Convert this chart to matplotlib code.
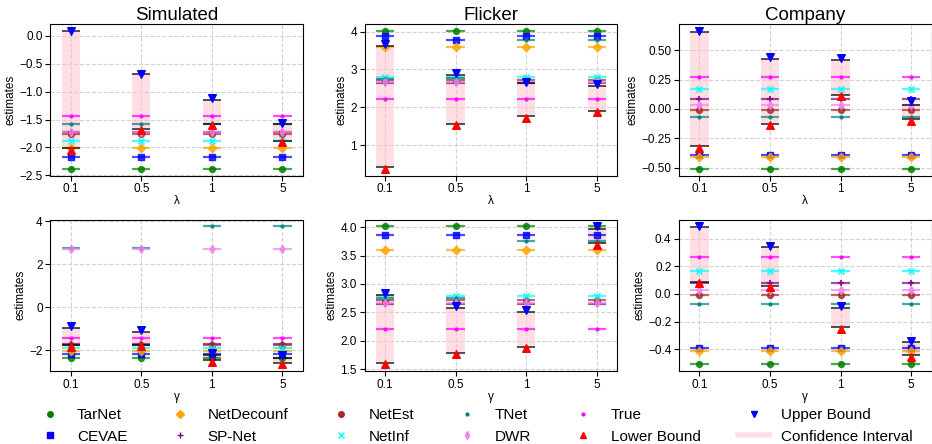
import matplotlib
matplotlib.use("Agg")
import matplotlib.pyplot as plt
from matplotlib.lines import Line2D
import numpy as np

plt.rcParams['font.family'] = ['Liberation Sans', 'DejaVu Sans']

xlabels = ['0.1', '0.5', '1', '5']

methods = ['TarNet', 'CEVAE', 'NetDecounf', 'SP-Net', 'NetEst', 'NetInf', 'TNet', 'DWR', 'True']
colors = {'TarNet': 'green', 'CEVAE': 'blue', 'NetDecounf': 'orange', 'SP-Net': 'purple',
          'NetEst': 'brown', 'NetInf': 'cyan', 'TNet': 'teal', 'DWR': 'violet', 'True': 'magenta'}
markers = {'TarNet': 'o', 'CEVAE': 's', 'NetDecounf': 'D', 'SP-Net': '+',
           'NetEst': 'o', 'NetInf': 'x', 'TNet': '.', 'DWR': 'd', 'True': '.'}

# ---- Simulated, lambda ----
sim_l = {'TarNet': [-2.38]*4, 'CEVAE': [-2.17]*4, 'NetDecounf': [-2.01]*4, 'SP-Net': [-1.72]*4,
         'NetEst': [-1.75]*4, 'NetInf': [-1.88]*4, 'TNet': [-1.585]*4, 'DWR': [-1.73]*4,
         'True': [-1.44]*4}
sim_l_ub = [0.09, -0.68, -1.12, -1.56]
sim_l_hi = [0.09, -0.69, -1.14, -1.585]
sim_l_lo = [-2.01, -1.66, -1.57, -1.875]
sim_l_lb = [-2.04, -1.69, -1.60, -1.905]

# ---- Flicker, lambda ----
fli_l = {'TarNet': [4.02]*4, 'CEVAE': [3.88, 3.77, 3.88, 3.88], 'NetDecounf': [3.60]*4,
         'SP-Net': [2.65]*4, 'NetEst': [2.73]*4, 'NetInf': [2.80]*4,
         'TNet': [2.76, 2.77, 3.77, 3.77], 'DWR': [2.66]*4, 'True': [2.21]*4}
fli_l_ub = [3.68, 2.90, 2.68, 2.62]
fli_l_hi = [3.62, 2.85, 2.64, 2.56]
fli_l_lo = [0.42, 1.57, 1.76, 1.90]
fli_l_lb = [0.38, 1.53, 1.73, 1.87]

# ---- Company, lambda ----
com_l = {'TarNet': [-0.51]*4, 'CEVAE': [-0.39]*4, 'NetDecounf': [-0.41]*4, 'SP-Net': [0.08]*4,
         'NetEst': [-0.01]*4, 'NetInf': [0.17]*4, 'TNet': [-0.07]*4, 'DWR': [0.03]*4,
         'True': [0.27]*4}
com_l_ub = [0.665, 0.445, 0.435, 0.065]
com_l_hi = [0.653, 0.428, 0.418, 0.035]
com_l_lo = [-0.32, -0.125, 0.122, -0.09]
com_l_lb = [-0.335, -0.135, 0.11, -0.10]

# ---- Simulated, gamma ----
sim_g = {'TarNet': [-2.38]*4, 'CEVAE': [-2.17]*4, 'NetDecounf': [-2.01]*4, 'SP-Net': [-1.72]*4,
         'NetEst': [-1.75]*4, 'NetInf': [-1.88]*4, 'TNet': [2.73, 2.73, 3.75, 3.75],
         'DWR': [2.72, 2.72, 2.69, 2.69], 'True': [-1.45]*4}
sim_g_ub = [-0.88, -1.06, -2.14, -2.22]
sim_g_hi = [-0.95, -1.13, -2.20, -2.38]
sim_g_lo = [-1.76, -1.76, -2.45, -2.57]
sim_g_lb = [-1.83, -1.80, -2.54, -2.65]

# ---- Flicker, gamma ----
fli_g = {'TarNet': [4.01]*4, 'CEVAE': [3.86]*4, 'NetDecounf': [3.59]*4, 'SP-Net': [2.65]*4,
         'NetEst': [2.72]*4, 'NetInf': [2.79]*4, 'TNet': [2.76, 2.76, 3.75, 3.75],
         'DWR': [2.66]*4, 'True': [2.21]*4}
fli_g_ub = [2.84, 2.61, 2.55, 4.01]
fli_g_hi = [2.80, 2.57, 2.51, 3.97]
fli_g_lo = [1.62, 1.79, 1.90, 3.72]
fli_g_lb = [1.59, 1.77, 1.88, 3.69]

# ---- Company, gamma ----
com_g = {'TarNet': [-0.51]*4, 'CEVAE': [-0.39]*4, 'NetDecounf': [-0.41]*4, 'SP-Net': [0.08]*4,
         'NetEst': [-0.01]*4, 'NetInf': [0.17]*4, 'TNet': [-0.07]*4, 'DWR': [0.03]*4,
         'True': [0.27]*4}
com_g_ub = [0.49, 0.35, -0.09, -0.34]
com_g_hi = [0.483, 0.34, -0.10, -0.35]
com_g_lo = [0.09, 0.06, -0.24, -0.44]
com_g_lb = [0.08, 0.05, -0.255, -0.455]

panels = [
    ('Simulated', 'λ', sim_l, sim_l_ub, sim_l_hi, sim_l_lo, sim_l_lb, [-2.5, -2.0, -1.5, -1.0, -0.5, 0.0], '%.1f'),
    ('Flicker', 'λ', fli_l, fli_l_ub, fli_l_hi, fli_l_lo, fli_l_lb, [1, 2, 3, 4], '%d'),
    ('Company', 'λ', com_l, com_l_ub, com_l_hi, com_l_lo, com_l_lb, [-0.5, -0.25, 0.0, 0.25, 0.5], '%.2f'),
    (None, 'γ', sim_g, sim_g_ub, sim_g_hi, sim_g_lo, sim_g_lb, [-2, 0, 2, 4], '%d'),
    (None, 'γ', fli_g, fli_g_ub, fli_g_hi, fli_g_lo, fli_g_lb, [1.5, 2.0, 2.5, 3.0, 3.5, 4.0], '%.1f'),
    (None, 'γ', com_g, com_g_ub, com_g_hi, com_g_lo, com_g_lb, [-0.4, -0.2, 0.0, 0.2, 0.4], '%.1f'),
]

w = 0.13
x = np.arange(len(xlabels))

fig, axes = plt.subplots(2, 3, figsize=(9.32, 4.44), dpi=100)
plt.subplots_adjust(left=0.054, right=0.9995, top=0.946, bottom=0.164, wspace=0.245, hspace=0.29)

for ax, (title, xl, vals, ub, hi, lo, lb, yticks, fmt) in zip(axes.flat, panels):
    ax.set_axisbelow(True)
    ax.grid(True, linestyle='--', color='lightgray', linewidth=0.8)
    for i in x:
        ax.fill_between([i - w, i + w], lo[i], hi[i], color='pink', alpha=0.5, linewidth=0, zorder=1)
    for m in methods:
        ax.hlines(vals[m], x - w, x + w, color=colors[m], linewidth=1.6, alpha=0.7, zorder=2)
        ax.scatter(x, vals[m], marker=markers[m], color=colors[m], s=18, alpha=0.8, zorder=3)
    ax.hlines(hi, x - w, x + w, color='black', linewidth=1.2, alpha=0.8, zorder=4)
    ax.hlines(lo, x - w, x + w, color='black', linewidth=1.2, alpha=0.8, zorder=4)
    ax.scatter(x, ub, marker='v', color='blue', s=30, zorder=5)
    ax.scatter(x, lb, marker='^', color='red', s=30, zorder=5)
    ax.set_xticks(x)
    ax.set_xticklabels(xlabels)
    ax.set_xlim(-0.29, 3.29)
    ax.set_yticks(yticks)
    ax.set_yticklabels([(fmt % t).replace('-', '\u2212') for t in yticks])
    ax.tick_params(labelsize=8.5, pad=2)
    ax.set_xlabel(xl, fontsize=8.5, labelpad=0)
    ax.set_ylabel('estimates', fontsize=8.5, labelpad=2)
    if title:
        ax.set_title(title, fontsize=13.5, pad=3)

handles = []
labels = ['TarNet', 'CEVAE', 'NetDecounf', 'SP-Net', 'NetEst', 'NetInf', 'TNet', 'DWR', 'True',
          'Lower Bound', 'Upper Bound', 'Confidence Interval']
for m in labels[:9]:
    handles.append(Line2D([], [], linestyle='none', marker=markers[m], color=colors[m], markersize=4))
handles.append(Line2D([], [], linestyle='none', marker='^', color='red', markersize=4))
handles.append(Line2D([], [], linestyle='none', marker='v', color='blue', markersize=4))
handles.append(Line2D([], [], color='pink', alpha=0.5, linewidth=4))

fig.legend(handles, labels, loc='lower center', ncol=6, frameon=False, fontsize=11,
           bbox_to_anchor=(0.508, -0.03), columnspacing=2.45)

plt.savefig('out.png', dpi=100)
